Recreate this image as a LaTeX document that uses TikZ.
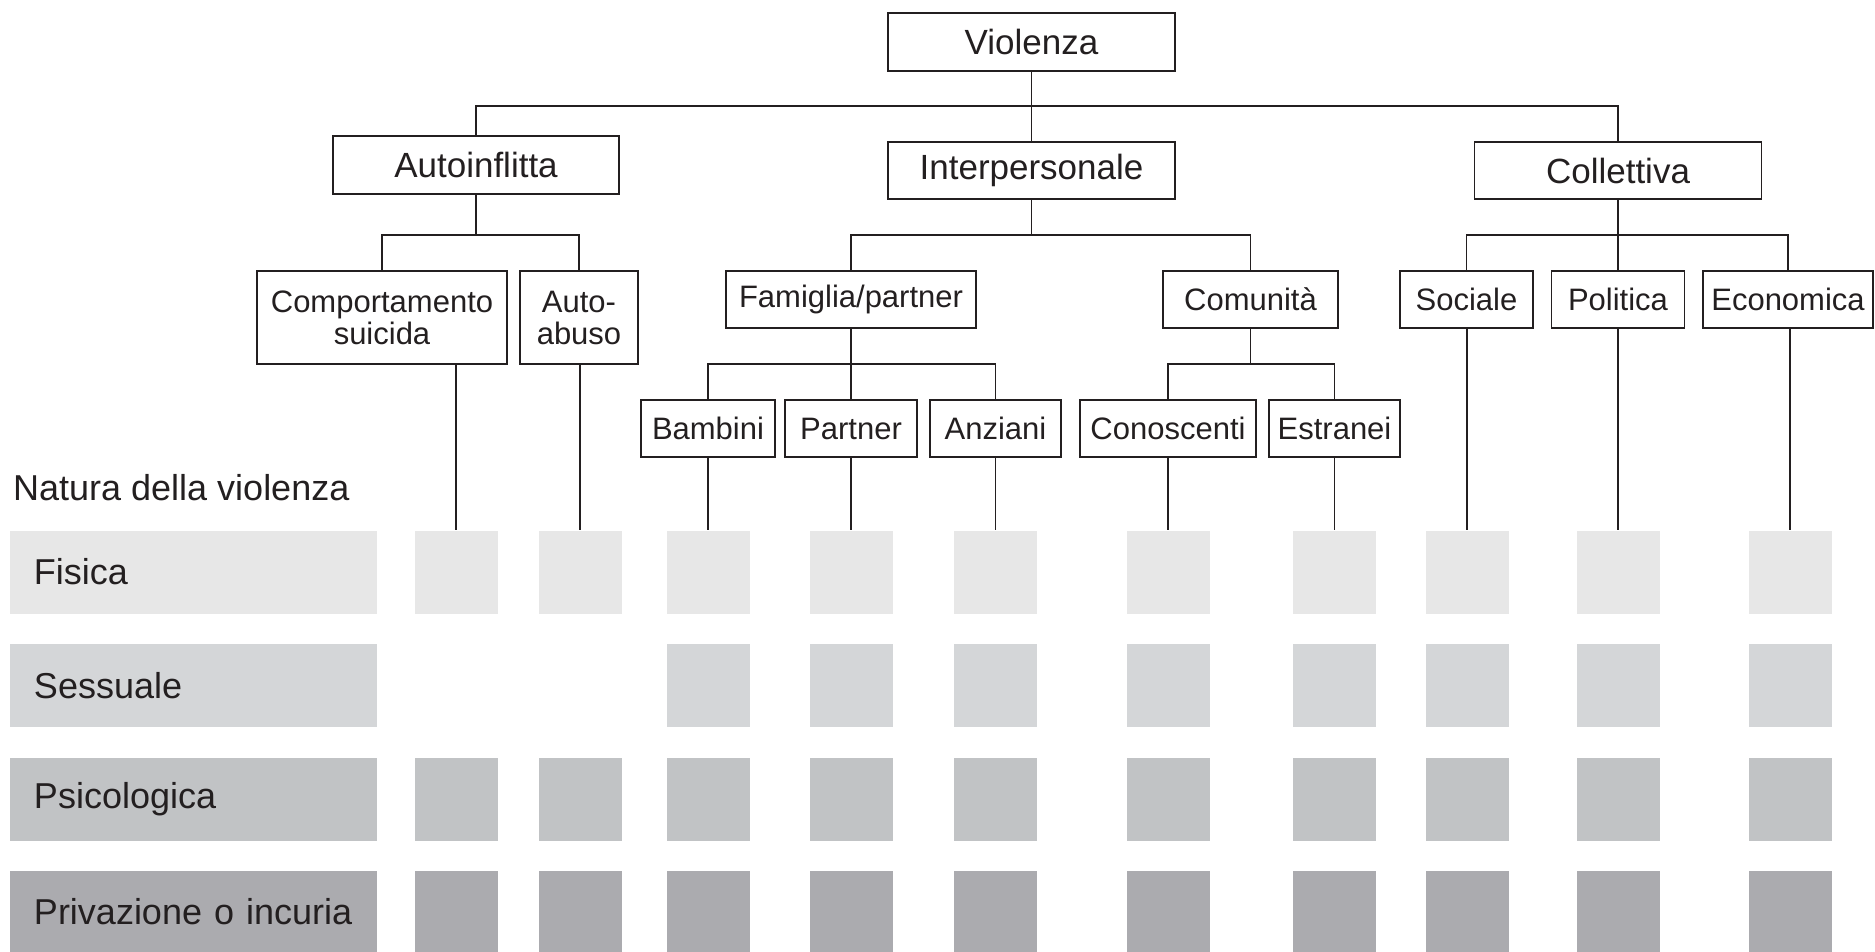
\documentclass[tikz,border=0pt]{standalone}
\usepackage{fontspec}
\setmainfont{Liberation Sans}
\definecolor{txt}{HTML}{231F20}
\definecolor{cfis}{HTML}{E7E7E7}
\definecolor{cses}{HTML}{D4D6D8}
\definecolor{cpsi}{HTML}{C1C3C5}
\definecolor{cpri}{HTML}{ABABAF}
\tikzset{
  box/.style={draw=txt, line width=1.8pt, rectangle, inner sep=0pt, align=center, text=txt,
    font=\fontsize{35}{38}\selectfont},
  sbox/.style={box, font=\fontsize{31}{32}\selectfont},
  conn/.style={draw=txt, line width=1.8pt},
  cell/.style={rectangle, inner sep=0pt, minimum width=83pt, minimum height=83pt, draw=none},
  rowlab/.style={rectangle, inner sep=0pt, inner xsep=24pt, minimum width=367pt, minimum height=83pt,
    text width=319pt, align=left, text=txt, font=\fontsize{36}{40}\selectfont},
}
\begin{document}
\begin{tikzpicture}[x=1pt,y=-1pt]
\useasboundingbox (0,0) rectangle (1875,952);
% level 0/1
\node[box, minimum width=287pt, minimum height=58pt] (viol) at (1031.5,42) {Violenza};
\node[box, minimum width=286pt, minimum height=58pt] (auto) at (476,165) {Autoinflitta};
\node[box, minimum width=287pt, minimum height=57pt] (inter) at (1031.5,170.5) {Interpersonale};
\node[box, minimum width=287pt, minimum height=57pt] (coll) at (1618,170.5) {Collettiva};
% level 2
\node[sbox, minimum width=250pt, minimum height=93pt] (comp) at (382,317.5) {Comportamento\\suicida};
\node[sbox, minimum width=118pt, minimum height=93pt] (aabuso) at (579,317.5) {Auto-\\abuso};
\node[sbox, minimum width=250pt, minimum height=57pt] (fam) at (851,299.5) {Famiglia/partner};
\node[sbox, minimum width=175pt, minimum height=57pt] (comun) at (1250.5,299.5) {Comunità};
\node[sbox, minimum width=133pt, minimum height=57pt] (soc) at (1466.5,299.5) {Sociale};
\node[sbox, minimum width=133pt, minimum height=57pt] (pol) at (1618,299.5) {Politica};
\node[sbox, minimum width=170pt, minimum height=57pt] (eco) at (1788,299.5) {Economica};
% level 3
\node[sbox, minimum width=134pt, minimum height=57pt] (bamb) at (708,428.5) {Bambini};
\node[sbox, minimum width=132pt, minimum height=57pt] (part) at (851,428.5) {Partner};
\node[sbox, minimum width=131pt, minimum height=57pt] (anz) at (995.5,428.5) {Anziani};
\node[sbox, minimum width=176pt, minimum height=57pt] (cono) at (1168,428.5) {Conoscenti};
\node[sbox, minimum width=131pt, minimum height=57pt] (estr) at (1334.5,428.5) {Estranei};
% buses
\coordinate (b1) at (1031.5,106);
\coordinate (b2a) at (476,235);
\coordinate (b2i) at (1031.5,235);
\coordinate (b2c) at (1618,235);
\coordinate (b3f) at (851,364);
\coordinate (b3c) at (1250.5,364);
\draw[conn] (viol.south) -- (inter.north);
\draw[conn] (auto.north) |- (b1) -| (coll.north);
\draw[conn] (auto.south) -- (b2a);
\draw[conn] (comp.north) |- (b2a) -| (aabuso.north);
\draw[conn] (inter.south) -- (b2i);
\draw[conn] (fam.north) |- (b2i) -| (comun.north);
\draw[conn] (coll.south) -- (pol.north);
\draw[conn] (soc.north) |- (b2c) -| (eco.north);
\draw[conn] (fam.south) -- (part.north);
\draw[conn] (bamb.north) |- (b3f) -| (anz.north);
\draw[conn] (comun.south) -- (b3c);
\draw[conn] (cono.north) |- (b3c) -| (estr.north);
% title
\node[anchor=west, inner sep=0pt, text=txt, font=\fontsize{36}{40}\selectfont] (natura) at (13,488) {Natura della violenza};
% rows
\node[rowlab, fill=cfis] (rfis) at (193.5,572) {Fisica};
\node[rowlab, fill=cses] (rses) at (193.5,685.5) {Sessuale};
\node[rowlab, fill=cpsi] (rpsi) at (193.5,799) {Psicologica};
\node[rowlab, fill=cpri] (rpri) at (193.5,912) {Privazione o incuria};
% cells
\foreach \i/\x in {1/456,2/580,3/708,4/851,5/995.5,6/1168,7/1334.5,8/1467,9/1618,10/1790}{
  \node[cell, fill=cfis] (f\i) at (\x,572) {};
  \node[cell, fill=cpsi] (p\i) at (\x,799) {};
  \node[cell, fill=cpri] (d\i) at (\x,912) {};
}
\foreach \i/\x in {3/708,4/851,5/995.5,6/1168,7/1334.5,8/1467,9/1618,10/1790}{
  \node[cell, fill=cses] (s\i) at (\x,685.5) {};
}
% drops
\draw[conn, line width=1.5pt] (f1.north |- comp.south) -- (f1.north);
\draw[conn, line width=1.5pt] (f2.north |- aabuso.south) -- (f2.north);
\draw[conn, line width=1.5pt] (bamb.south) -- (f3.north);
\draw[conn, line width=1.5pt] (part.south) -- (f4.north);
\draw[conn, line width=1.5pt] (anz.south) -- (f5.north);
\draw[conn, line width=1.5pt] (cono.south) -- (f6.north);
\draw[conn, line width=1.5pt] (estr.south) -- (f7.north);
\draw[conn, line width=1.5pt] (f8.north |- soc.south) -- (f8.north);
\draw[conn, line width=1.5pt] (pol.south) -- (f9.north);
\draw[conn, line width=1.5pt] (f10.north |- eco.south) -- (f10.north);
\end{tikzpicture}
\end{document}
